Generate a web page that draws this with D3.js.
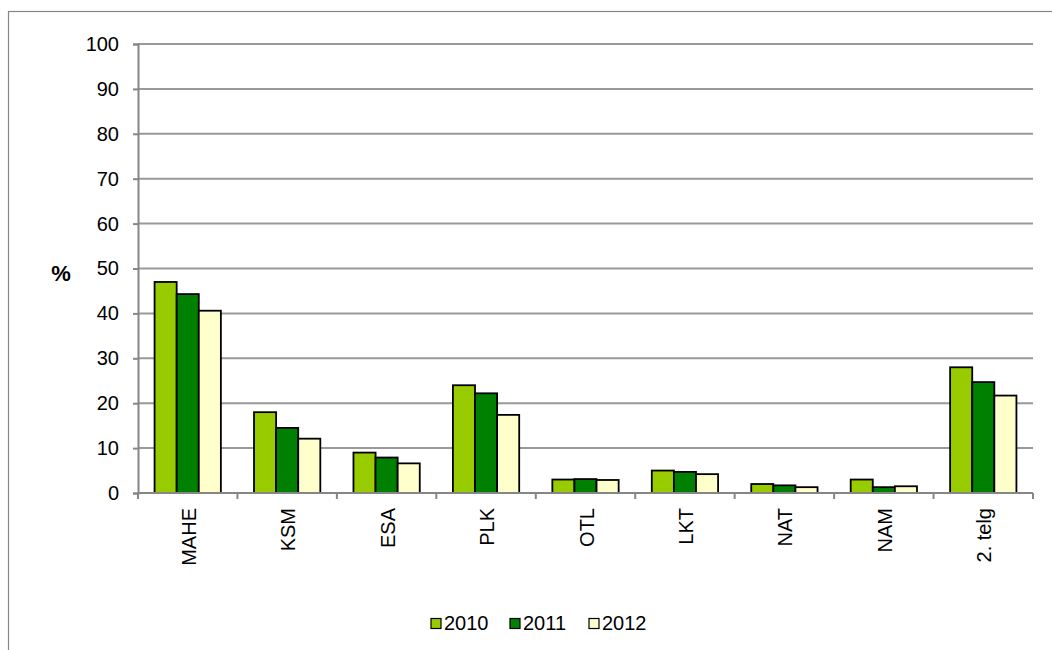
<!DOCTYPE html>
<html><head><meta charset="utf-8">
<script src="https://cdn.jsdelivr.net/npm/d3@7"></script>
<style>body{margin:0;background:#fff}svg{display:block}text{font-family:"Liberation Sans",Arial,sans-serif}</style>
</head><body><svg id="c" width="1052" height="650"></svg>
<script>
const categories = ["MAHE","KSM","ESA","PLK","OTL","LKT","NAT","NAM","2. telg"];
const seriesNames = ["2010","2011","2012"];
const values2010 = [47.0,18.0,9.0,24.0,3.0,5.0,2.0,3.0,28.0];
const values2011 = [44.3,14.5,7.9,22.2,3.1,4.7,1.7,1.3,24.7];
const values2012 = [40.6,12.1,6.6,17.4,2.9,4.2,1.3,1.5,21.7];
const yTicks = [0,10,20,30,40,50,60,70,80,90,100];
const colors = ["#99cc00","#008000","#ffffcc"];
const series = [values2010, values2011, values2012];

const svg = d3.select("#c");
const L = 138, R = 1033, T = 44, B = 493;
svg.append("rect").attr("x",8.5).attr("y",11.5).attr("width",1100).attr("height",700)
  .attr("fill","none").attr("stroke","#868686").attr("stroke-width",1.2);

const x = d3.scaleBand().domain(categories).range([L,R]);
const barW = x.bandwidth()/4.5; // gap width 150%
const y = d3.scaleLinear().domain([0,100]).range([B,T]);

// gridlines
svg.append("g").selectAll("line").data(yTicks.filter(d=>d>0)).join("line")
  .attr("x1",L).attr("x2",R).attr("y1",d=>y(d)).attr("y2",d=>y(d))
  .attr("stroke","#999999").attr("stroke-width",2);

// y axis
const ya = svg.append("g").attr("transform",`translate(${L},0)`)
  .call(d3.axisLeft(y).tickValues(yTicks).tickSize(5).tickPadding(14));
ya.select(".domain").attr("stroke","#868686").attr("stroke-width",2);
ya.selectAll(".tick line").attr("stroke","#868686").attr("stroke-width",2);
ya.selectAll(".tick text").attr("font-size",20).attr("fill","#000")
  .attr("font-family","Liberation Sans, Arial, sans-serif");

// bars
series.forEach((vals,si)=>{
  svg.append("g").selectAll("rect").data(vals).join("rect")
    .attr("x",(d,i)=>x(categories[i]) + 0.75*barW + si*barW)
    .attr("y",d=>y(d)).attr("width",barW).attr("height",d=>B-y(d))
    .attr("fill",colors[si]).attr("stroke","#000").attr("stroke-width",1.8);
});

// x axis
svg.append("line").attr("x1",L).attr("x2",R).attr("y1",B).attr("y2",B)
  .attr("stroke","#868686").attr("stroke-width",2);
const bounds = categories.map(c=>x(c)).concat([R]);
svg.append("g").selectAll("line").data(bounds).join("line")
  .attr("x1",d=>d).attr("x2",d=>d).attr("y1",B).attr("y2",B+6)
  .attr("stroke","#868686").attr("stroke-width",2);
svg.append("g").selectAll("text").data(categories).join("text")
  .attr("transform",d=>`translate(${x(d)+x.bandwidth()/2+8},508) rotate(-90)`)
  .attr("text-anchor","end").attr("font-size",20).text(d=>d);

// y title
svg.append("text").attr("x",61).attr("y",281).attr("text-anchor","middle")
  .attr("font-size",22).attr("font-weight","bold").text("%");

// legend
const legX = [431,510,589];
seriesNames.forEach((s,i)=>{
  svg.append("rect").attr("x",legX[i]).attr("y",618.5).attr("width",10).attr("height",10)
    .attr("fill",colors[i]).attr("stroke","#000").attr("stroke-width",1.2);
  svg.append("text").attr("x",legX[i]+13).attr("y",630).attr("font-size",20).text(s);
});
</script></body></html>
